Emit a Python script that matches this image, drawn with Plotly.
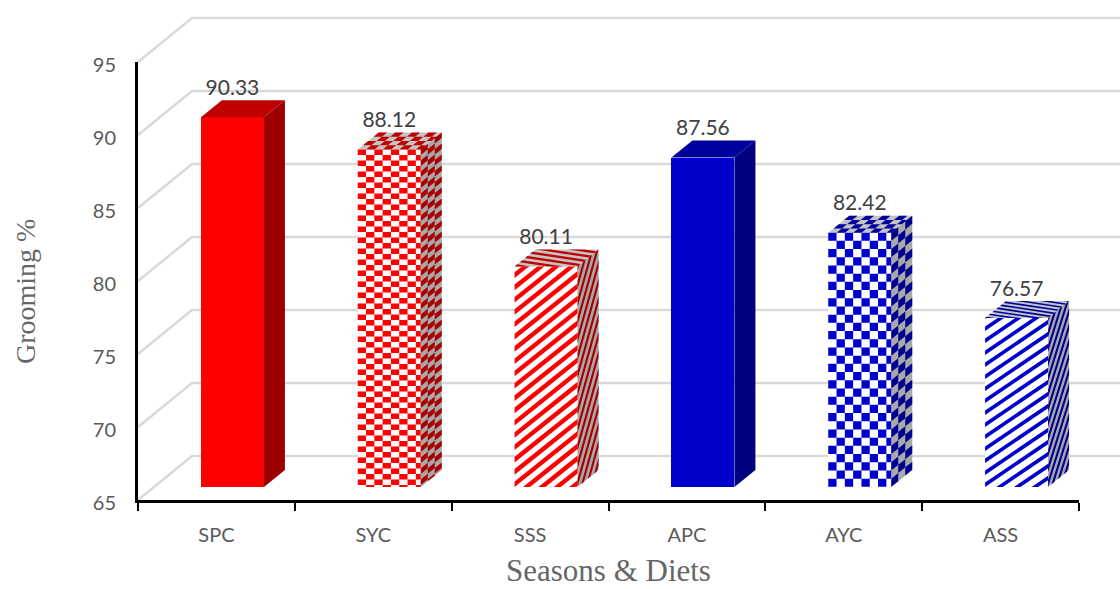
import plotly.graph_objects as go

# Grooming percentage by season and diet
categories = ["SPC", "SYC", "SSS", "APC", "AYC", "ASS"]
grooming = [90.33, 88.12, 80.11, 87.56, 82.42, 76.57]
y_ticks = [65, 70, 75, 80, 85, 90, 95]

WIDTH, HEIGHT = 1120, 589
M_L, M_R, M_T, M_B = 138, 41, 62, 89
PX_PER_CAT = (WIDTH - M_L - M_R) / 6
PX_PER_VAL = (HEIGHT - M_T - M_B) / 30
BASE = 65
BAR_W = 63 / PX_PER_CAT

# Oblique projection: depth offsets of the back wall and of one bar
WALL_DX, WALL_DY = 54 / PX_PER_CAT, 44 / PX_PER_VAL
BAR_DX, BAR_DY = 21 / PX_PER_CAT, 17 / PX_PER_VAL
SHIFT_X, SHIFT_Y = 16 / PX_PER_CAT, 13 / PX_PER_VAL
# Value-axis labels sit slightly below their nominal level
LABEL_DROP = 3 / PX_PER_VAL

RED = dict(front="#ff0000", top="#c00000", side="#a80000")
BLUE = dict(front="#0000cc", top="#00009c", side="#000090")
SOLID_SIDE = dict(red="#9c0000", blue="#000080")
GREY_TOP, GREY_SIDE = "#c4c4c4", "#a8a8a8"

# (palette, pattern, cell or stripe parameters) per bar
styles = [
    (RED, "solid", None),
    (RED, "check", 5.5),
    (RED, "stripe", dict(m=0.8, period=12.3, band=5.6, top=(-0.15, 5.0, 2.4), side=(3.6, 18, 8))),
    (BLUE, "solid", None),
    (BLUE, "check", 8.2),
    (BLUE, "stripe", dict(m=0.68, period=12, band=4.4, top=(-0.15, 3.6, 1.6), side=(3.2, 15, 7))),
]


def clip_half(poly, f):
    """Keep the part of a polygon where f(point) >= 0."""
    out = []
    for i, p in enumerate(poly):
        q = poly[(i + 1) % len(poly)]
        fp, fq = f(p), f(q)
        if fp >= 0:
            out.append(p)
        if fp * fq < 0:
            t = fp / (fp - fq)
            out.append((p[0] + t * (q[0] - p[0]), p[1] + t * (q[1] - p[1])))
    return out


def append_path(xs, ys, poly):
    if len(poly) < 3:
        return
    xs.extend(p[0] for p in poly)
    xs.append(poly[0][0])
    ys.extend(p[1] for p in poly)
    ys.append(poly[0][1])
    xs.append(None)
    ys.append(None)


def stripes(face, slope, period, band):
    """Diagonal bands (slope and spacing in pixels) clipped to a convex face."""
    x0, y0 = face[0]
    to_px = lambda p: ((p[0] - x0) * PX_PER_CAT, (p[1] - y0) * PX_PER_VAL)
    offs = [to_px(p)[1] - slope * to_px(p)[0] for p in face]
    xs, ys = [], []
    k = int(min(offs) // period) - 1
    while k * period < max(offs):
        c0, c1 = k * period, k * period + band
        poly = clip_half(face, lambda p: to_px(p)[1] - slope * to_px(p)[0] - c0)
        if poly:
            poly = clip_half(poly, lambda p: c1 - (to_px(p)[1] - slope * to_px(p)[0]))
        append_path(xs, ys, poly)
        k += 1
    return xs, ys


def checks(origin, u, v, nu, nv):
    """Checkerboard on the parallelogram origin + a*u + b*v, counted from the far edge of v."""
    xs, ys = [], []
    iu, iv = int(nu) + 1, int(nv) + 1
    for i in range(iu):
        for j in range(iv):
            if (i + j) % 2:
                continue
            a0, a1 = i / nu, min((i + 1) / nu, 1)
            b1, b0 = 1 - j / nv, max(1 - (j + 1) / nv, 0)
            if a0 >= 1 or b1 <= 0:
                continue
            corner = lambda a, b: (origin[0] + a * u[0] + b * v[0], origin[1] + a * u[1] + b * v[1])
            append_path(xs, ys, [corner(a0, b0), corner(a1, b0), corner(a1, b1), corner(a0, b1)])
    return xs, ys


def polygon(xs, ys, color):
    return go.Scatter(x=xs, y=ys, mode="lines", fill="toself", fillcolor=color,
                      line=dict(width=0), hoverinfo="skip", showlegend=False,
                      xaxis="x3", yaxis="y3", cliponaxis=False)


# Full-canvas axes carry the walls, which run past the plot rectangle
wall_xmin = -0.5 - M_L / PX_PER_CAT
wall_xmax = -0.5 + (WIDTH - M_L) / PX_PER_CAT
wall_ymin = BASE + LABEL_DROP - M_B / PX_PER_VAL
wall_ymax = BASE + LABEL_DROP + (HEIGHT - M_B) / PX_PER_VAL

fig = go.Figure()

wall_x, wall_y = [], []
for t in y_ticks:
    level = t + LABEL_DROP
    wall_x += [-0.5, -0.5 + WALL_DX, wall_xmax, None]
    wall_y += [level, level + WALL_DY, level + WALL_DY, None]
fig.add_trace(go.Scatter(x=wall_x, y=wall_y, mode="lines", xaxis="x", yaxis="y",
                         line=dict(color="#d9d9d9", width=2.5),
                         hoverinfo="skip", showlegend=False))

positions = list(range(len(categories)))

# Front plane axes: a dummy trace keeps the visible axis pair alive
fig.add_trace(go.Scatter(x=positions, y=grooming, mode="none", xaxis="x2", yaxis="y2",
                         hoverinfo="skip", showlegend=False))

# Front faces of the bars
fronts = [pal["front"] if kind == "solid" else "#ffffff" for pal, kind, _ in styles]
fig.add_trace(go.Bar(x=positions, y=[g - BASE for g in grooming], base=BASE, width=BAR_W,
                     marker=dict(color=fronts, line=dict(width=0)), xaxis="x3", yaxis="y3",
                     showlegend=False, cliponaxis=False))

for pos, val, (pal, kind, par) in zip(positions, grooming, styles):
    xl, xr = pos - BAR_W / 2, pos + BAR_W / 2
    front = [(xl, BASE), (xr, BASE), (xr, val), (xl, val)]
    top = [(xl, val), (xr, val), (xr + BAR_DX, val + BAR_DY), (xl + BAR_DX, val + BAR_DY)]
    side = [(xr, BASE), (xr + BAR_DX, BASE + BAR_DY), (xr + BAR_DX, val + BAR_DY), (xr, val)]

    if kind == "solid":
        top_base = pal["top"]
        side_base = SOLID_SIDE["red"] if pal is RED else SOLID_SIDE["blue"]
    else:
        top_base, side_base = GREY_TOP, GREY_SIDE

    for face, color in ((top, top_base), (side, side_base)):
        xs, ys = [], []
        append_path(xs, ys, face)
        fig.add_trace(polygon(xs, ys, color))

    height_px = (val - BASE) * PX_PER_VAL
    if kind == "check":
        rows = height_px / par
        fig.add_trace(polygon(*checks((xl, BASE), (BAR_W, 0), (0, val - BASE), 63 / 8.3, rows), pal["front"]))
        fig.add_trace(polygon(*checks((xl, val), (BAR_W, 0), (BAR_DX, BAR_DY), 63 / 8.3, 4), pal["top"]))
        fig.add_trace(polygon(*checks((xr, BASE), (BAR_DX, BAR_DY), (0, val - BASE), 3, rows), pal["side"]))
    elif kind == "stripe":
        fig.add_trace(polygon(*stripes(front, par["m"], par["period"], par["band"]), pal["front"]))
        fig.add_trace(polygon(*stripes(top, *par["top"]), pal["top"]))
        fig.add_trace(polygon(*stripes(side, *par["side"]), pal["side"]))

# Value labels above each bar
fig.add_trace(go.Scatter(
    x=positions, y=[g + BAR_DY for g in grooming], mode="text",
    text=[f"{g:.2f}" for g in grooming], textposition="top center",
    textfont=dict(family="Lato", size=21, color="#404040"),
    hoverinfo="skip", showlegend=False, xaxis="x3", yaxis="y3", cliponaxis=False,
))

x_domain = [M_L / WIDTH, 1 - M_R / WIDTH]
y_domain = [M_B / HEIGHT, 1 - M_T / HEIGHT]

fig.update_layout(
    width=WIDTH, height=HEIGHT, margin=dict(l=0, r=0, t=0, b=0, pad=0),
    paper_bgcolor="white", plot_bgcolor="rgba(0,0,0,0)", showlegend=False, bargap=0,
    xaxis=dict(domain=[0, 1], range=[wall_xmin, wall_xmax], visible=False),
    yaxis=dict(
        domain=[0, 1], range=[wall_ymin, wall_ymax], anchor="free", position=x_domain[0],
        side="left", tickmode="array", tickvals=y_ticks, ticks="", showgrid=False,
        zeroline=False, showline=False, ticklabelstandoff=22,
        tickfont=dict(family="Lato", size=20, color="#595959"),
    ),
    xaxis2=dict(
        domain=x_domain, anchor="y2", range=[-0.5, 5.5], tickmode="array", tickvals=positions,
        ticktext=categories, ticks="", showgrid=False, zeroline=False, showline=True,
        linecolor="black", linewidth=2.5, ticklabelstandoff=15,
        tickfont=dict(family="Lato", size=20, color="#595959"),
        minor=dict(tickmode="array", tickvals=[p - 0.5 for p in positions] + [5.5],
                   ticks="outside", ticklen=8, tickwidth=2, tickcolor="black", showgrid=False),
    ),
    yaxis2=dict(
        domain=y_domain, anchor="x2", range=[65, 95], showticklabels=False, ticks="",
        showgrid=False, zeroline=False, showline=True, linecolor="black", linewidth=2.5,
    ),
    xaxis3=dict(range=[-0.5 - SHIFT_X, 5.5 - SHIFT_X], overlaying="x2", visible=False, anchor="y3"),
    yaxis3=dict(range=[65 - SHIFT_Y, 95 - SHIFT_Y], overlaying="y2", visible=False, anchor="x3"),
    annotations=[
        dict(text="Seasons &amp; Diets", xref="paper", yref="paper", x=608.5 / WIDTH,
             y=0, xanchor="center", yanchor="bottom", showarrow=False, borderpad=0,
             font=dict(family="Liberation Serif", size=31, color="#666666")),
        dict(text="Grooming %", xref="paper", yref="paper", x=25 / WIDTH, y=1 - 292 / HEIGHT,
             textangle=-90, xanchor="center", yanchor="middle", showarrow=False,
             font=dict(family="Liberation Serif", size=28, color="#666666")),
    ],
)

fig.write_html("out.html")
